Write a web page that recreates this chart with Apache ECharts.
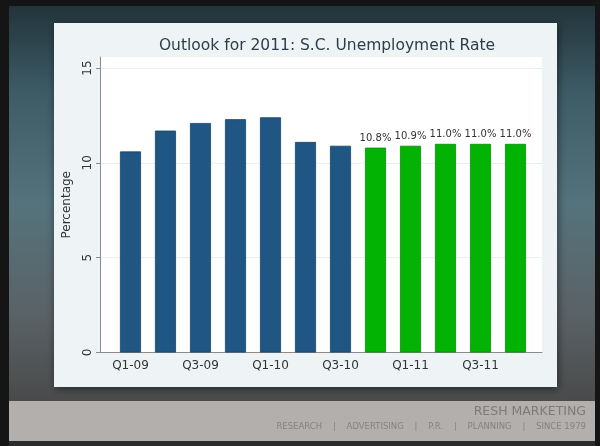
<!DOCTYPE html>
<html>
<head>
<meta charset="utf-8">
<style>
  html, body { margin: 0; padding: 0; background: #151515; }
  #chart { width: 600px; height: 446px; }
</style>
<script src="https://cdn.jsdelivr.net/npm/echarts@6/dist/echarts.min.js"></script>
</head>
<body>
<div id="chart"></div>
<script>
// Quarterly labels, actual rates (through Q3-10) and forecast rates (Q4-10 onward)
const quarters = ['Q1-09', 'Q2-09', 'Q3-09', 'Q4-09', 'Q1-10', 'Q2-10', 'Q3-10',
                  'Q4-10', 'Q1-11', 'Q2-11', 'Q3-11', 'Q4-11'];
const actualRates = [10.6, 11.7, 12.1, 12.3, 12.4, 11.1, 10.9];
const forecastRates = [10.8, 10.9, 11.0, 11.0, 11.0];
const labeledQuarters = [0, 2, 4, 6, 8, 10];
const yTicks = [0, 5, 10, 15];

const actualData = actualRates.map((v, i) => [i, v]);
const forecastData = forecastRates.map((v, i) => [actualRates.length + i, v]);

const chart = echarts.init(document.getElementById('chart'), null, { renderer: 'canvas' });

const font = 'DejaVu Sans, Verdana, sans-serif';

chart.setOption({
  animation: false,
  backgroundColor: '#151515',
  graphic: [
    {
      type: 'rect', z: -10, silent: true,
      shape: { x: 9, y: 6, width: 586, height: 440 },
      style: {
        fill: new echarts.graphic.LinearGradient(0, 0, 0, 1, [
          { offset: 0, color: '#22343b' },
          { offset: 0.2, color: '#3e5c66' },
          { offset: 0.45, color: '#55737c' },
          { offset: 0.7, color: '#5a6266' },
          { offset: 0.9, color: '#4a4a4a' },
          { offset: 1, color: '#3a3a3a' }
        ])
      }
    },
    {
      type: 'rect', z: -9, silent: true,
      shape: { x: 9, y: 401, width: 586, height: 40 },
      style: { fill: '#b3afad' }
    },
    {
      type: 'rect', z: -9, silent: true,
      shape: { x: 9, y: 441, width: 586, height: 5 },
      style: { fill: '#2c2c2c' }
    },
    {
      type: 'rect', z: -8, silent: true,
      shape: { x: 54, y: 23, width: 503, height: 364 },
      style: {
        fill: '#eef3f6',
        shadowBlur: 8, shadowColor: 'rgba(0,0,0,0.5)', shadowOffsetX: 1, shadowOffsetY: 2
      }
    },
    {
      type: 'text', z: 5, silent: true,
      x: 586, y: 412,
      style: {
        text: 'RESH MARKETING', fill: '#7d7a79',
        font: '12.5px ' + font, textAlign: 'right', textVerticalAlign: 'middle'
      }
    },
    {
      type: 'text', z: 5, silent: true,
      x: 586, y: 427,
      style: {
        text: 'RESEARCH    |    ADVERTISING    |    P.R.    |    PLANNING    |    SINCE 1979',
        fill: '#858281',
        font: '8.5px ' + font, textAlign: 'right', textVerticalAlign: 'middle'
      }
    }
  ],
  title: {
    text: 'Outlook for 2011: S.C. Unemployment Rate',
    left: 322, top: 33, textAlign: 'center',
    textStyle: { fontFamily: font, fontSize: 15.5, fontWeight: 'normal', color: '#2c3d4b' }
  },
  grid: {
    left: 100, right: 58, top: 57, bottom: 93.5,
    show: true, backgroundColor: '#ffffff', borderWidth: 0
  },
  xAxis: {
    type: 'value',
    min: -0.871, max: 11.757,
    splitLine: { show: false },
    axisLine: { show: true, onZero: false, lineStyle: { color: '#8a8a8a', width: 1 } },
    axisTick: { show: false },
    axisLabel: {
      customValues: labeledQuarters,
      formatter: v => quarters[Math.round(v)] || '',
      color: '#333', fontFamily: font, fontSize: 12, margin: 7
    }
  },
  yAxis: {
    type: 'value',
    min: 0, max: 15.58, interval: 5,
    name: 'Percentage', nameLocation: 'middle', nameRotate: 90, nameGap: 27,
    nameTextStyle: { color: '#333', fontFamily: font, fontSize: 12 },
    axisLine: { show: true, onZero: false, lineStyle: { color: '#8a8a8a', width: 1 } },
    axisTick: { show: true, length: 4, lineStyle: { color: '#8a8a8a' }, customValues: yTicks },
    axisLabel: {
      rotate: 90, customValues: yTicks,
      color: '#333', fontFamily: font, fontSize: 12, margin: 6
    },
    splitLine: { show: true, lineStyle: { color: '#eceeef', width: 1 } }
  },
  series: [
    {
      name: 'Actual', type: 'bar', barWidth: 21, barGap: '-100%',
      data: actualData,
      itemStyle: { color: '#1f5683', borderColor: '#174468', borderWidth: 0.8 }
    },
    {
      name: 'Forecast', type: 'bar', barWidth: 21, barGap: '-100%',
      data: forecastData,
      itemStyle: { color: '#03b303', borderColor: '#088a08', borderWidth: 0.8 },
      label: {
        show: true, position: 'top', distance: 4,
        formatter: p => p.value[1].toFixed(1) + '%',
        color: '#333', fontFamily: font, fontSize: 10
      }
    }
  ]
});
</script>
</body>
</html>
